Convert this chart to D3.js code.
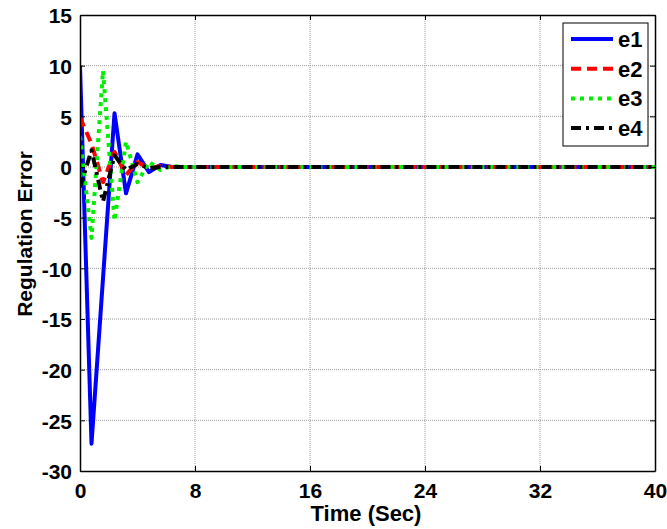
<!DOCTYPE html>
<html>
<head>
<meta charset="utf-8">
<script src="https://cdn.jsdelivr.net/npm/d3@7"></script>
<style>
body { margin: 0; background: #fff; }
text { font-family: "Liberation Sans", Arial, sans-serif; font-weight: bold; }
</style>
</head>
<body>
<script>
// sample times (sec) and errors
var time = [0, 0.8, 1.6, 2.4, 3.2, 4.0, 4.8, 5.6, 6.4, 7.2, 8, 40];
var e1 = [10, -27.3, -11, 5.3, -2.6, 1.25, -0.5, 0.2, 0, 0, 0, 0];
var e2 = [4.9, 2.3, -1.5, 1.5, -0.8, 0.5, -0.15, 0.1, 0, 0, 0, 0];
var e3 = [3, -7.0, 9.5, -5.3, 2.5, -1.5, 0.5, -0.3, 0.1, 0, 0, 0];
var e4 = [-2.0, 1.65, -3.4, 1.15, -0.3, 0.3, -0.1, 0, 0, 0, 0, 0];
var xTicks = [0, 8, 16, 24, 32, 40];
var yTicks = [15, 10, 5, 0, -5, -10, -15, -20, -25, -30];
var seriesNames = ["e1", "e2", "e3", "e4"];

var w = 667, h = 529;
var pLeft = 80, pRight = 655, pTop = 15, pBottom = 471;

var series = [
    {name: "e1", values: e1, color: "#0000ff", dash: null},
    {name: "e2", values: e2, color: "#ff0000", dash: "10,6"},
    {name: "e3", values: e3, color: "#00ee00", dash: "4,5"},
    {name: "e4", values: e4, color: "#000000", dash: "10,5,3,5"}
];

var svg = d3.select("body").append("svg")
    .attr("width", w)
    .attr("height", h);

var x = d3.scaleLinear().domain([0, 40]).range([pLeft, pRight]);
var y = d3.scaleLinear().domain([-30, 15]).range([pBottom, pTop]);

// grid
svg.append("g").selectAll("line").data(xTicks.slice(1, -1)).enter().append("line")
    .attr("x1", d => x(d)).attr("x2", d => x(d))
    .attr("y1", pTop).attr("y2", pBottom)
    .style("stroke", "#999").style("stroke-dasharray", "1,1");
svg.append("g").selectAll("line").data(yTicks.slice(1, -1)).enter().append("line")
    .attr("x1", pLeft).attr("x2", pRight)
    .attr("y1", d => y(d)).attr("y2", d => y(d))
    .style("stroke", "#999").style("stroke-dasharray", "1,1");

// lines
svg.append("clipPath").attr("id", "clip").append("rect")
    .attr("x", pLeft).attr("y", pTop).attr("width", pRight - pLeft).attr("height", pBottom - pTop);

var line = d3.line()
    .x((d, i) => x(time[i]))
    .y(d => y(d));

svg.append("g").attr("clip-path", "url(#clip)")
    .selectAll("path").data(series).enter().append("path")
    .attr("d", d => line(d.values))
    .style("fill", "none")
    .style("stroke", d => d.color)
    .style("stroke-width", 4)
    .style("stroke-linejoin", "round")
    .style("stroke-dasharray", d => d.dash);

// axes with inward ticks, plain hyphen for negatives
var fmt = d => String(d);
var xAxis = d3.axisBottom(x).tickValues(xTicks).tickSize(-5).tickFormat(fmt).tickSizeOuter(0);
var yAxis = d3.axisLeft(y).tickValues(yTicks).tickSize(-5).tickPadding(8).tickFormat(fmt).tickSizeOuter(0);

var gx = svg.append("g").attr("transform", "translate(0," + pBottom + ")").call(xAxis);
var gy = svg.append("g").attr("transform", "translate(" + pLeft + ",0)").call(yAxis);
svg.append("g").attr("transform", "translate(0," + pTop + ")")
    .call(d3.axisTop(x).tickValues(xTicks).tickSize(-5).tickFormat("").tickSizeOuter(0));
svg.append("g").attr("transform", "translate(" + pRight + ",0)")
    .call(d3.axisRight(y).tickValues(yTicks).tickSize(-5).tickFormat("").tickSizeOuter(0));

svg.selectAll(".domain").style("stroke", "#000").style("stroke-width", 1.5);
svg.selectAll(".tick line").style("stroke", "#000");
gx.selectAll("text").style("font-size", "21px").style("fill", "#000")
    .attr("y", 27).attr("dy", 0);
gy.selectAll("text").style("font-size", "21px").style("fill", "#000").attr("dy", "0.38em");

// labels
svg.append("text")
    .attr("x", 366)
    .attr("y", 521)
    .attr("text-anchor", "middle")
    .style("font-size", "22px")
    .text("Time (Sec)");

svg.append("text")
    .attr("transform", "rotate(-90)")
    .attr("x", -234)
    .attr("y", 32)
    .attr("text-anchor", "middle")
    .style("font-size", "21px")
    .text("Regulation Error");

// legend
var legend = svg.append("g").attr("transform", "translate(563, 23)");
legend.append("rect")
    .attr("width", 85).attr("height", 123)
    .style("fill", "#fff").style("stroke", "#000");
var items = legend.selectAll(".item").data(series).enter().append("g")
    .attr("transform", (d, i) => "translate(0," + (16 + i * 29.7) + ")");
items.append("line")
    .attr("x1", 8).attr("x2", 50)
    .style("stroke", d => d.color)
    .style("stroke-width", 4)
    .style("stroke-dasharray", d => d.dash);
items.append("text")
    .attr("x", 55).attr("y", 8)
    .style("font-size", "22px")
    .text((d, i) => seriesNames[i]);
</script>
</body>
</html>
